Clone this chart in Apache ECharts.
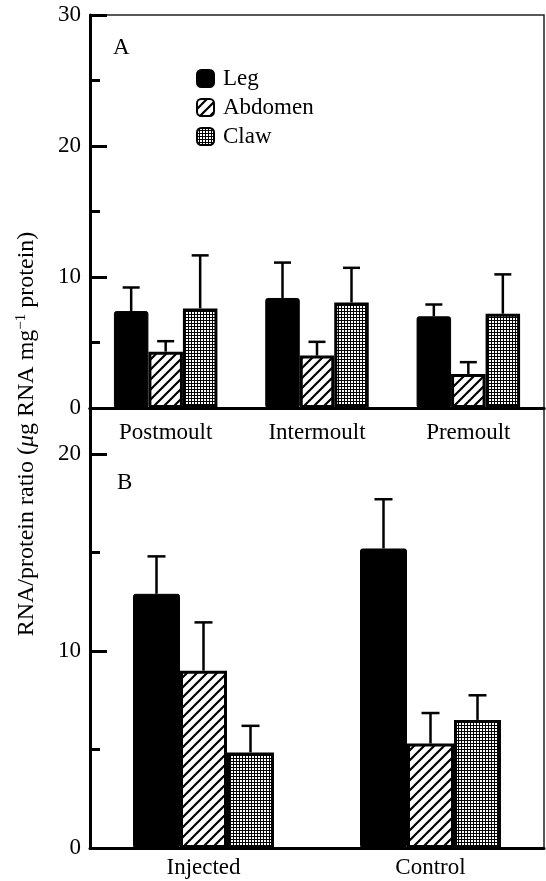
<!DOCTYPE html>
<html>
<head>
<meta charset="utf-8">
<script src="https://cdn.jsdelivr.net/npm/echarts@6/dist/echarts.min.js"></script>
<style>
html,body{margin:0;padding:0;background:#fff;}
#chart{width:546px;height:881px;}
</style>
</head>
<body>
<div id="chart"></div>
<script>
// ---- Data ----
const categoriesA = ['Postmoult', 'Intermoult', 'Premoult'];
const legA = [7.4, 8.4, 7.0];
const legAErr = [1.8, 2.7, 0.9];
const abdA = [4.3, 4.0, 2.6];
const abdAErr = [0.8, 1.05, 0.9];
const clawA = [7.6, 8.05, 7.2];
const clawAErr = [4.05, 2.65, 3.0];

const categoriesB = ['Injected', 'Control'];
const legB = [12.9, 15.2];
const legBErr = [1.9, 2.5];
const abdB = [9.0, 5.3];
const abdBErr = [2.45, 1.55];
const clawB = [4.85, 6.5];
const clawBErr = [1.35, 1.25];

const seriesNames = ['Leg', 'Abdomen', 'Claw'];
const yTicksA = [0, 10, 20, 30];
const yMinorA = [5, 15, 25];
const yTicksB = [0, 10, 20];
const yMinorB = [5, 15];

// ---- Patterns ----
function hatchPattern() {
  const c = document.createElement('canvas');
  c.width = 10; c.height = 10;
  const g = c.getContext('2d');
  g.fillStyle = '#fff'; g.fillRect(0, 0, 10, 10);
  g.strokeStyle = '#000'; g.lineWidth = 2.2;
  g.beginPath();
  g.moveTo(-2, 12); g.lineTo(12, -2);
  g.moveTo(-2, 2); g.lineTo(2, -2);
  g.moveTo(8, 12); g.lineTo(12, 8);
  g.stroke();
  return c;
}
function dotPattern() {
  const c = document.createElement('canvas');
  c.width = 3; c.height = 3;
  const g = c.getContext('2d');
  g.fillStyle = '#000'; g.fillRect(0, 0, 3, 3);
  g.fillStyle = '#fff'; g.fillRect(0, 0, 2, 2);
  return c;
}
const hatch = { image: hatchPattern(), repeat: 'repeat' };
const dots = { image: dotPattern(), repeat: 'repeat' };

const FONT = 'Liberation Serif';
const barWA = 34.5, barWB = 47;

const styles = [
  { color: '#000', borderColor: '#000', borderWidth: 1, borderRadius: 2 },
  { color: hatch, borderColor: '#000', borderWidth: 3 },
  { color: dots, borderColor: '#000', borderWidth: 3 }
];

function errRender(k, barW, cap) {
  return function (params, api) {
    const c = api.value(0), m = api.value(1), s = api.value(2);
    const base = api.coord([c, m]);
    const top = api.coord([c, m + s]);
    const x = base[0] + (k - 1) * barW;
    return {
      type: 'group',
      children: [
        { type: 'line', shape: { x1: x, y1: base[1], x2: x, y2: top[1] }, style: { stroke: '#000', lineWidth: 2.5 } },
        { type: 'line', shape: { x1: x - cap / 2, y1: top[1], x2: x + cap / 2, y2: top[1] }, style: { stroke: '#000', lineWidth: 2.5 } }
      ]
    };
  };
}

function barSeries(name, data, k, xi, yi, barW) {
  return {
    name: name, type: 'bar', data: data, xAxisIndex: xi, yAxisIndex: yi,
    barWidth: barW, barGap: '0%', itemStyle: styles[k], z: 2,
    emphasis: { disabled: true }
  };
}
function errSeries(vals, errs, k, xi, yi, barW, cap) {
  return {
    type: 'custom', xAxisIndex: xi, yAxisIndex: yi, z: 3,
    renderItem: errRender(k, barW, cap),
    encode: { x: 0, y: 1 },
    data: vals.map((v, i) => [i, v, errs[i]]),
    silent: true
  };
}

const chart = echarts.init(document.getElementById('chart'), null, { renderer: 'canvas' });

const option = {
  backgroundColor: '#fff',
  animation: false,
  textStyle: { fontFamily: FONT, color: '#000' },
  grid: [
    { left: 90, right: 2, top: 15, height: 393, show: true, borderColor: '#222', borderWidth: 1.5, backgroundColor: 'transparent' },
    { left: 90, right: 2, top: 408, height: 440, show: true, borderColor: '#222', borderWidth: 1.5, backgroundColor: 'transparent' }
  ],
  legend: {
    data: seriesNames,
    orient: 'vertical',
    left: 196, top: 67, padding: 0,
    itemWidth: 17, itemHeight: 17, itemGap: 6,
    textStyle: { fontFamily: FONT, fontSize: 23, color: '#000', padding: [0, 0, 0, 4] },
    selectedMode: false
  },
  xAxis: [
    { gridIndex: 0, type: 'category', data: categoriesA, position: 'bottom',
      axisLine: { lineStyle: { color: '#000', width: 3 } }, axisTick: { show: false },
      axisLabel: { fontFamily: FONT, fontSize: 23, color: '#000', margin: 13 } },
    { gridIndex: 0, type: 'category', data: categoriesA, position: 'top',
      axisLine: { lineStyle: { color: '#000', width: 3 } }, axisTick: { show: false }, axisLabel: { show: false } },
    { gridIndex: 1, type: 'category', data: categoriesB, position: 'bottom',
      axisLine: { lineStyle: { color: '#000', width: 3 } }, axisTick: { show: false },
      axisLabel: { fontFamily: FONT, fontSize: 23, color: '#000', margin: 8 } }
  ],
  yAxis: [
    { gridIndex: 0, type: 'value', min: 0, max: 30, interval: 10, position: 'left',
      axisLine: { show: true, lineStyle: { color: '#000', width: 3 } },
      axisTick: { show: true, inside: true, length: 17, lineStyle: { color: '#000', width: 3 }, customValues: yTicksA },
      axisLabel: { fontFamily: FONT, fontSize: 23, color: '#000', margin: 9, customValues: yTicksA },
      splitLine: { show: false } },
    { gridIndex: 0, type: 'value', min: 0, max: 30, interval: 5, position: 'left', offset: 0,
      axisLine: { show: false },
      axisTick: { show: true, inside: true, length: 10, lineStyle: { color: '#000', width: 3 }, customValues: yMinorA },
      axisLabel: { show: false }, splitLine: { show: false } },
    { gridIndex: 1, type: 'value', min: 0, max: 22.33, position: 'left',
      axisLine: { show: true, lineStyle: { color: '#000', width: 3 } },
      axisTick: { show: true, inside: true, length: 17, lineStyle: { color: '#000', width: 3 }, customValues: yTicksB },
      axisLabel: { fontFamily: FONT, fontSize: 23, color: '#000', margin: 9, customValues: yTicksB },
      splitLine: { show: false } },
    { gridIndex: 1, type: 'value', min: 0, max: 22.33, position: 'left', offset: 0,
      axisLine: { show: false },
      axisTick: { show: true, inside: true, length: 10, lineStyle: { color: '#000', width: 3 }, customValues: yMinorB },
      axisLabel: { show: false }, splitLine: { show: false } }
  ],
  series: [
    barSeries('Leg', legA, 0, 0, 0, barWA),
    barSeries('Abdomen', abdA, 1, 0, 0, barWA),
    barSeries('Claw', clawA, 2, 0, 0, barWA),
    errSeries(legA, legAErr, 0, 0, 0, barWA, 17),
    errSeries(abdA, abdAErr, 1, 0, 0, barWA, 17),
    errSeries(clawA, clawAErr, 2, 0, 0, barWA, 17),
    barSeries('Leg', legB, 0, 2, 2, barWB),
    barSeries('Abdomen', abdB, 1, 2, 2, barWB),
    barSeries('Claw', clawB, 2, 2, 2, barWB),
    errSeries(legB, legBErr, 0, 2, 2, barWB, 18),
    errSeries(abdB, abdBErr, 1, 2, 2, barWB, 18),
    errSeries(clawB, clawBErr, 2, 2, 2, barWB, 18)
  ],
  graphic: [
    { type: 'text', left: 113, top: 36, style: { text: 'A', font: '23px "Liberation Serif"', fill: '#000' } },
    { type: 'text', left: 117, top: 471, style: { text: 'B', font: '23px "Liberation Serif"', fill: '#000' } },
    { type: 'text', x: 27, y: 434, rotation: Math.PI / 2,
      style: {
        text: 'RNA/protein ratio ({i|μ}g RNA mg{s|−1} protein)',
        fontFamily: FONT, fontSize: 24, fill: '#000',
        align: 'center', verticalAlign: 'middle',
        rich: {
          i: { fontFamily: FONT, fontSize: 24, fontStyle: 'italic', fill: '#000' },
          s: { fontFamily: FONT, fontSize: 15, fill: '#000', padding: [0, 0, 12, 0] }
        }
      }
    }
  ]
};
chart.setOption(option);
</script>
</body>
</html>
